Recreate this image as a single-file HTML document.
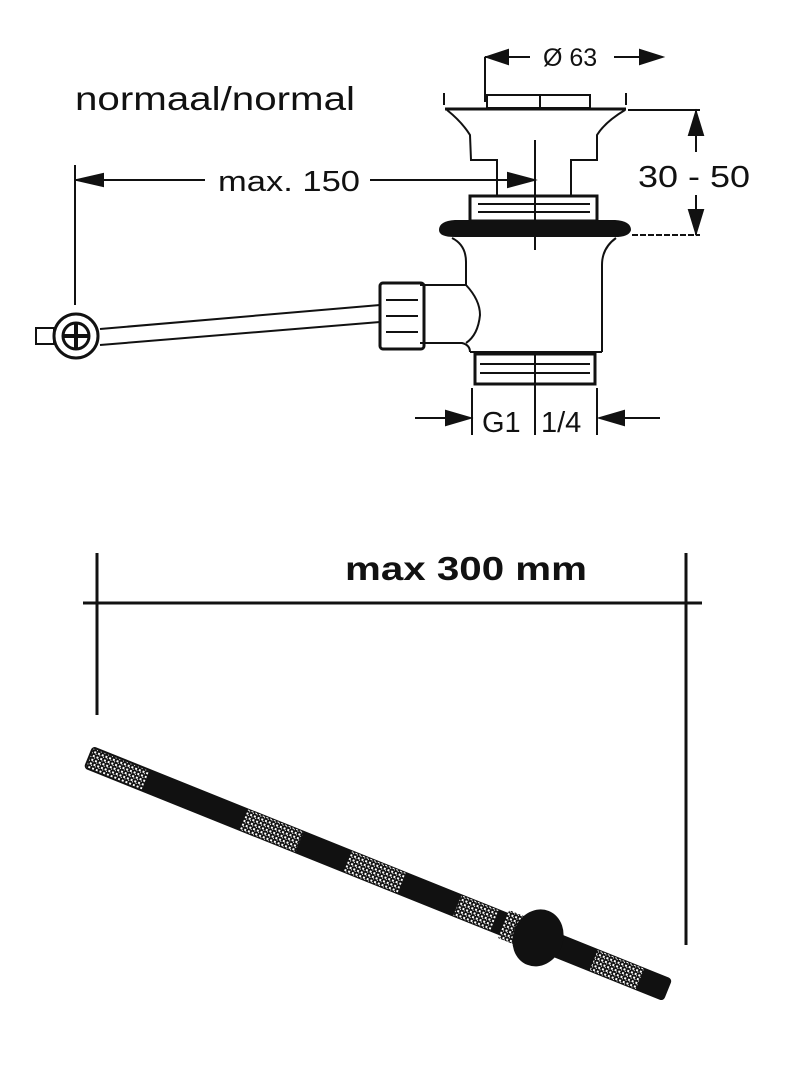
<!DOCTYPE html>
<html><head><meta charset="utf-8"><style>
html,body{margin:0;padding:0;background:#fff;}
svg{display:block;}
text{font-family:"Liberation Sans",sans-serif;fill:#111;}
</style></head><body>
<svg width="794" height="1080" viewBox="0 0 794 1080" xmlns="http://www.w3.org/2000/svg">
<defs>
<pattern id="hat" width="4" height="4" patternUnits="userSpaceOnUse">
<rect width="4" height="4" fill="#111"/><rect x="0" y="0" width="2" height="2" fill="#fff"/><rect x="2" y="2" width="1" height="1" fill="#fff"/>
</pattern>
</defs>
<g stroke="#111" fill="none" stroke-width="2">
<text x="75" y="110" font-size="33" textLength="280" lengthAdjust="spacingAndGlyphs" stroke="none">normaal/normal</text>

<line x1="485" y1="57" x2="485" y2="102"/>
<line x1="485" y1="57" x2="530" y2="57"/>
<polygon points="487,57 508,50 508,64" fill="#111"/>
<text x="543" y="66" font-size="25" stroke="none">Ø 63</text>
<line x1="614" y1="57" x2="660" y2="57"/>
<polygon points="662,57 640,50 640,64" fill="#111"/>

<line x1="628" y1="110" x2="700" y2="110"/>
<line x1="696" y1="110" x2="696" y2="152"/>
<polygon points="696,112 689,135 703,135" fill="#111"/>
<line x1="696" y1="195" x2="696" y2="235"/>
<polygon points="696,233 689,210 703,210" fill="#111"/>
<line x1="632" y1="235" x2="700" y2="235" stroke-dasharray="6,2"/>
<text x="638" y="187" font-size="31" textLength="112" lengthAdjust="spacingAndGlyphs" stroke="none">30 - 50</text>

<line x1="75" y1="165" x2="75" y2="305"/>
<line x1="75" y1="180" x2="205" y2="180"/>
<polygon points="77,180 103,174 103,186" fill="#111"/>
<text x="218" y="191" font-size="29" textLength="142" lengthAdjust="spacingAndGlyphs" stroke="none">max. 150</text>
<line x1="370" y1="180" x2="532" y2="180"/>
<polygon points="534,180 508,173 508,187" fill="#111"/>
<line x1="535" y1="140" x2="535" y2="250"/>

<line x1="444" y1="93" x2="444" y2="105"/>
<line x1="626" y1="93" x2="626" y2="105"/>
<rect x="487" y="95" width="103" height="13"/>
<line x1="540" y1="95" x2="540" y2="108"/>
<line x1="445" y1="109" x2="626" y2="109" stroke-width="3"/>
<path d="M447,110 Q462,122 470,135 L471,160 L497,160 L497,196"/>
<path d="M625,110 Q605,122 597,135 L597,160 L571,160 L571,196"/>
<rect x="470" y="196" width="127" height="25" stroke-width="3"/>
<line x1="478" y1="204" x2="590" y2="204"/><line x1="478" y1="212" x2="590" y2="212"/>
<path d="M440,230 Q440,222 455,221 L615,221 Q630,222 630,230 Q628,236 615,236 L455,236 Q440,236 440,230 Z" fill="#111"/>
<path d="M452,238 Q466,245 466,262 L466,285 L420,285"/>
<path d="M420,343 L462,343 Q470,345 470,352"/>
<path d="M466,285 Q480,300 480,315 Q478,335 466,343"/>
<path d="M616,238 Q602,248 602,265 L602,352"/>
<line x1="470" y1="352" x2="602" y2="352"/>
<rect x="475" y="354" width="120" height="30" stroke-width="3"/>
<line x1="480" y1="364" x2="590" y2="364"/><line x1="480" y1="373" x2="590" y2="373"/>
<line x1="535" y1="354" x2="535" y2="435"/>
<line x1="472" y1="388" x2="472" y2="435"/>
<line x1="597" y1="388" x2="597" y2="435"/>
<line x1="415" y1="418" x2="470" y2="418"/>
<polygon points="470,418 446,411 446,425" fill="#111"/>
<line x1="600" y1="418" x2="660" y2="418"/>
<polygon points="600,418 624,411 624,425" fill="#111"/>
<text x="482" y="432" font-size="29" stroke="none">G1</text>
<text x="541" y="432" font-size="29" stroke="none">1/4</text>

<rect x="380" y="283" width="44" height="66" rx="3" stroke-width="3"/>
<line x1="386" y1="300" x2="418" y2="300"/><line x1="386" y1="316" x2="418" y2="316"/><line x1="386" y1="332" x2="418" y2="332"/>
<line x1="100" y1="329" x2="380" y2="305"/>
<line x1="100" y1="345" x2="380" y2="322"/>
<circle cx="76" cy="336" r="22" stroke-width="3"/>
<circle cx="76" cy="336" r="13" stroke-width="3"/>
<line x1="76" y1="322" x2="76" y2="350" stroke-width="4"/><line x1="62" y1="336" x2="90" y2="336" stroke-width="4"/>
<rect x="36" y="328" width="18" height="16"/>

<text x="345" y="580" font-size="33" font-weight="bold" textLength="242" lengthAdjust="spacingAndGlyphs" stroke="none">max 300 mm</text>
<line x1="83" y1="603" x2="702" y2="603" stroke-width="3"/>
<line x1="97" y1="553" x2="97" y2="715" stroke-width="3"/>
<line x1="686" y1="553" x2="686" y2="945" stroke-width="3"/>
</g>

<g transform="translate(88,757) rotate(21.9)">
<rect x="0" y="-12" width="625" height="24" rx="4" fill="#111"/>
<rect x="2" y="-10" width="60" height="20" fill="url(#hat)"/>
<rect x="168" y="-11" width="60" height="22" fill="url(#hat)"/>
<rect x="280" y="-11" width="58" height="22" fill="url(#hat)"/>
<rect x="398" y="-11" width="40" height="22" fill="url(#hat)"/>
<rect x="448" y="-15" width="18" height="30" fill="url(#hat)"/>
<ellipse cx="485" cy="0" rx="25" ry="29" fill="#111"/>
<rect x="545" y="-11" width="50" height="22" fill="url(#hat)"/>
</g>
</svg>
</body></html>
